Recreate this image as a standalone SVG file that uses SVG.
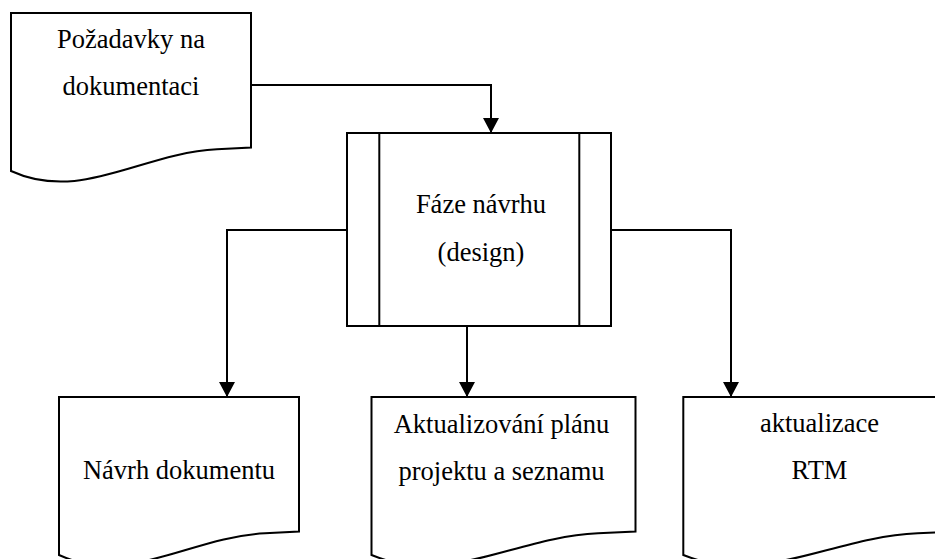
<svg xmlns="http://www.w3.org/2000/svg" width="935" height="559" viewBox="0 0 935 559">
  <style>
    .shape { fill: #ffffff; stroke: #000000; stroke-width: 2; stroke-linejoin: miter; }
    .edge { fill: none; stroke: #000000; stroke-width: 2; marker-end: url(#arrow); }
    .bar { stroke: #000000; stroke-width: 2; }
    .label { font-size: 26.5px; fill: #000000; text-anchor: middle; }
  </style>
  <defs>
    <marker id="arrow" markerUnits="userSpaceOnUse" markerWidth="16" markerHeight="16" refX="15" refY="8" orient="auto">
      <path d="M0,0 L15,8 L0,16 Z" fill="#000000"/>
    </marker>
  </defs>
  <rect width="935" height="559" fill="#ffffff"/>

  <!-- connectors -->
  <g id="connectors">
    <path class="edge" d="M251,85 H491 V133"/>
    <path class="edge" d="M347,230 H227 V397"/>
    <path class="edge" d="M467,326 V397"/>
    <path class="edge" d="M611,230 H731 V397"/>
  </g>

  <g font-family="'Liberation Serif', 'DejaVu Serif', serif">
    <!-- input document -->
    <g id="pozadavky">
      <path class="shape" d="M11,13 H251 V147.5 L217,149.3 C141,153 81,203 11,171 Z"/>
      <text class="label" x="131" y="48">Požadavky na</text>
      <text class="label" x="131" y="95">dokumentaci</text>
    </g>

    <!-- predefined process -->
    <g id="faze-navrhu">
      <rect class="shape" x="347" y="133" width="264" height="193"/>
      <line class="bar" x1="379.3" y1="133" x2="379.3" y2="326"/>
      <line class="bar" x1="579.3" y1="133" x2="579.3" y2="326"/>
      <text class="label" x="481" y="213">Fáze návrhu</text>
      <text class="label" x="481" y="261">(design)</text>
    </g>

    <!-- output documents -->
    <g id="navrh-dokumentu">
      <path class="shape" d="M59,397 H299 V531.5 L265,533.3 C189,537 129,587 59,555 Z"/>
      <text class="label" x="179" y="478.5">Návrh dokumentu</text>
    </g>

    <g id="aktualizovani-planu">
      <path class="shape" d="M371.5,397 H635.5 V531.5 L598.1,533.3 C514.5,537 448.5,587 371.5,555 Z"/>
      <text class="label" x="501.5" y="433">Aktualizování plánu</text>
      <text class="label" x="501.5" y="480">projektu a seznamu</text>
    </g>

    <g id="aktualizace-rtm">
      <path class="shape" d="M683.3,397 H956.3 V531.5 L917.6,533.3 C831.2,537 762.9,587 683.3,555 Z"/>
      <text class="label" x="819.5" y="432">aktualizace</text>
      <text class="label" x="819.5" y="479">RTM</text>
    </g>
  </g>
</svg>
